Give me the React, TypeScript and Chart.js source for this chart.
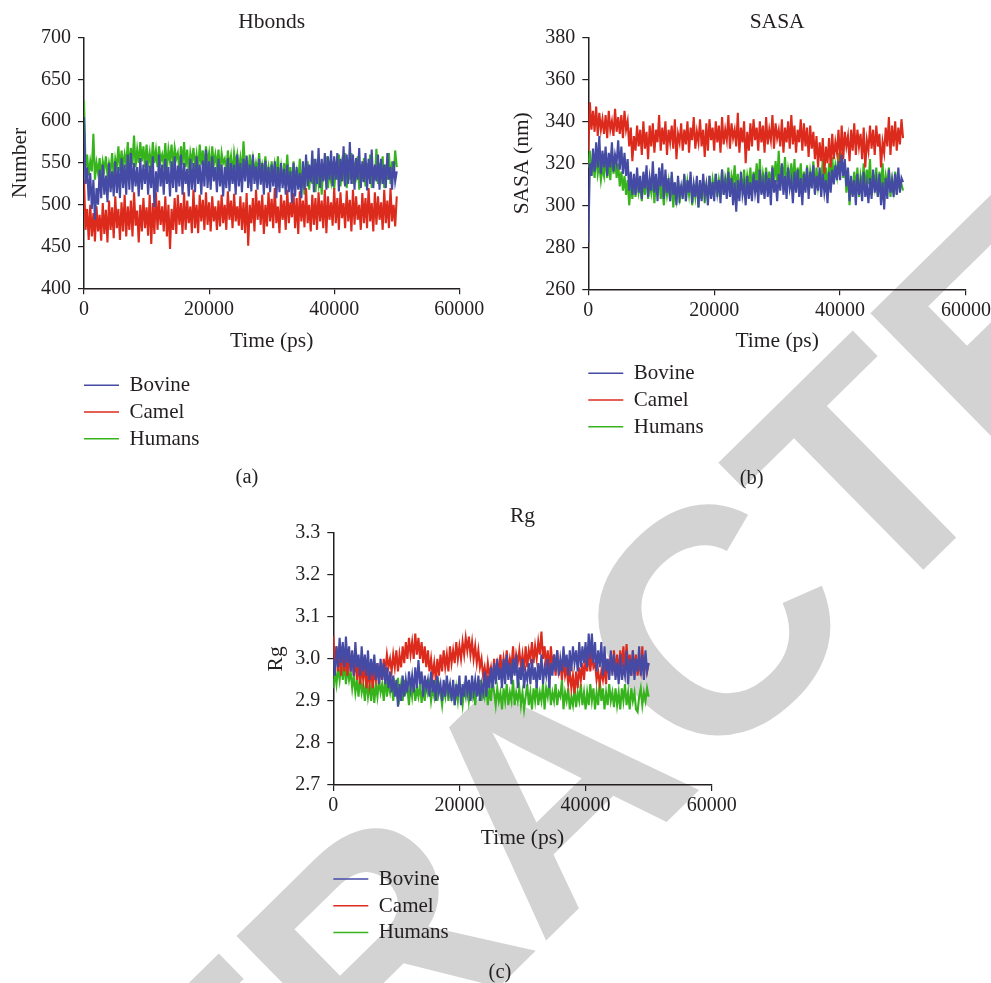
import React, { useEffect, useRef } from "react";
import { Chart, registerables } from "chart.js";

Chart.register(...registerables);

// ---------- data ----------
const TIME_PS = [
  0, 250, 500, 750, 1000, 1250, 1500, 1750, 2000, 2250,
  2500, 2750, 3000, 3250, 3500, 3750, 4000, 4250, 4500, 4750,
  5000, 5250, 5500, 5750, 6000, 6250, 6500, 6750, 7000, 7250,
  7500, 7750, 8000, 8250, 8500, 8750, 9000, 9250, 9500, 9750,
  10000, 10250, 10500, 10750, 11000, 11250, 11500, 11750, 12000, 12250,
  12500, 12750, 13000, 13250, 13500, 13750, 14000, 14250, 14500, 14750,
  15000, 15250, 15500, 15750, 16000, 16250, 16500, 16750, 17000, 17250,
  17500, 17750, 18000, 18250, 18500, 18750, 19000, 19250, 19500, 19750,
  20000, 20250, 20500, 20750, 21000, 21250, 21500, 21750, 22000, 22250,
  22500, 22750, 23000, 23250, 23500, 23750, 24000, 24250, 24500, 24750,
  25000, 25250, 25500, 25750, 26000, 26250, 26500, 26750, 27000, 27250,
  27500, 27750, 28000, 28250, 28500, 28750, 29000, 29250, 29500, 29750,
  30000, 30250, 30500, 30750, 31000, 31250, 31500, 31750, 32000, 32250,
  32500, 32750, 33000, 33250, 33500, 33750, 34000, 34250, 34500, 34750,
  35000, 35250, 35500, 35750, 36000, 36250, 36500, 36750, 37000, 37250,
  37500, 37750, 38000, 38250, 38500, 38750, 39000, 39250, 39500, 39750,
  40000, 40250, 40500, 40750, 41000, 41250, 41500, 41750, 42000, 42250,
  42500, 42750, 43000, 43250, 43500, 43750, 44000, 44250, 44500, 44750,
  45000, 45250, 45500, 45750, 46000, 46250, 46500, 46750, 47000, 47250,
  47500, 47750, 48000, 48250, 48500, 48750, 49000, 49250, 49500, 49750,
  50000,
];

const SERIES_NAMES = ["Bovine", "Camel", "Humans"];
const SERIES_COLORS = ["#454ba4", "#dc2b1c", "#37b41d"];

// Hbonds (Number)
const HB_BOVINE = [
  605, 525, 545, 505, 538, 495, 530, 482, 520, 500,
  542, 508, 548, 512, 535, 503, 550, 515, 540, 510,
  552, 514, 545, 508, 556, 520, 548, 512, 560, 518,
  562, 515, 550, 522, 545, 510, 556, 518, 548, 525,
  553, 512, 547, 520, 558, 497, 540, 515, 560, 522,
  548, 512, 555, 525, 545, 510, 552, 520, 558, 515,
  547, 522, 560, 512, 550, 525, 543, 510, 555, 518,
  550, 515, 558, 525, 548, 512, 553, 522, 566, 520,
  552, 518, 558, 528, 545, 515, 555, 522, 548, 510,
  545, 520, 556, 516, 550, 525, 548, 512, 560, 522,
  550, 515, 555, 528, 559, 520, 548, 516, 560, 525,
  546, 518, 555, 524, 550, 512, 553, 520, 545, 515,
  548, 522, 552, 508, 545, 515, 550, 520, 543, 512,
  548, 515, 540, 502, 550, 510, 545, 518, 538, 508,
  552, 518, 560, 522, 548, 527, 565, 515, 555, 525,
  568, 520, 555, 528, 562, 518, 558, 530, 565, 522,
  558, 530, 562, 516, 555, 528, 570, 522, 560, 525,
  575, 525, 560, 518, 556, 530, 568, 520, 552, 527,
  562, 517, 555, 525, 566, 520, 548, 528, 560, 518,
  555, 525, 548, 520, 562, 530, 545, 518, 552, 528,
  540,
];
const HB_CAMEL = [
  530, 470, 495, 458, 500, 462, 490, 456, 498, 468,
  488, 457, 502, 465, 494, 455, 505, 470, 497, 460,
  510, 472, 495, 458, 503, 468, 512, 462, 498, 470,
  505, 462, 515, 475, 493, 455, 500, 468, 508, 472,
  497, 463, 512, 453, 502, 465, 515, 470, 505, 476,
  498, 468, 510, 462, 500, 447, 495, 470, 508, 465,
  512, 476, 502, 465, 515, 470, 505, 478, 498, 466,
  518, 472, 500, 466, 512, 480, 506, 470, 515, 476,
  503, 468, 510, 480, 498, 470, 505, 474, 512, 478,
  500, 470, 516, 482, 505, 472, 513, 480, 498, 475,
  510, 470, 503, 466, 514, 451, 500, 478, 508, 468,
  518, 482, 505, 476, 512, 465, 500, 474, 515, 480,
  507, 472, 520, 478, 498, 466, 512, 482, 505, 470,
  518, 478, 503, 485, 514, 472, 508, 465, 516, 480,
  505, 473, 520, 478, 500, 468, 512, 476, 508, 470,
  515, 480, 505, 472, 518, 466, 510, 482, 503, 475,
  520, 478, 508, 470, 515, 484, 502, 472, 517, 480,
  506, 468, 518, 476, 510, 482, 500, 470, 514, 478,
  508, 472, 520, 480, 502, 468, 515, 476, 510, 482,
  503, 470, 518, 478, 505, 472, 520, 480, 500, 474,
  510,
];
const HB_HUMANS = [
  625, 545, 560, 535, 552, 540, 585, 530, 550, 538,
  556, 532, 552, 542, 558, 535, 550, 540, 562, 532,
  555, 545, 570, 540, 565, 545, 560, 548, 575, 542,
  568, 548, 583, 545, 566, 550, 575, 552, 570, 545,
  572, 548, 562, 543, 575, 550, 565, 545, 570, 552,
  560, 548, 574, 542, 566, 552, 572, 545, 568, 555,
  562, 540, 570, 548, 575, 545, 566, 538, 562, 550,
  568, 545, 560, 540, 572, 548, 565, 542, 570, 550,
  562, 540, 570, 548, 560, 545, 566, 538, 562, 550,
  555, 540, 565, 545, 558, 535, 562, 548, 560, 542,
  556, 538, 576, 545, 552, 535, 560, 540, 555, 538,
  550, 540, 562, 535, 548, 538, 558, 532, 545, 530,
  552, 528, 548, 535, 558, 530, 545, 525, 550, 532,
  560, 528, 545, 520, 552, 530, 540, 525, 555, 522,
  540, 512, 535, 552, 518, 545, 525, 555, 515, 540,
  525, 548, 512, 545, 530, 558, 520, 540, 528, 552,
  518, 545, 530, 560, 522, 548, 535, 562, 520, 550,
  530, 562, 525, 545, 535, 558, 518, 548, 528, 556,
  522, 550, 532, 560, 520, 545, 530, 567, 525, 550,
  535, 558, 520, 548, 530, 562, 525, 552, 535, 565,
  545,
];

// SASA (nm)
const SASA_BOVINE = [
  282, 320, 314, 327, 316, 330, 318, 333, 315, 326,
  318, 328, 314, 325, 318, 330, 316, 324, 320, 331,
  317, 328, 315, 325, 314, 322, 307, 316, 305, 315,
  305, 318, 306, 314, 303, 316, 308, 319, 304, 313,
  307, 321, 306, 315, 302, 318, 309, 320, 303, 317,
  306, 313, 302, 316, 305, 311, 300, 314, 304, 309,
  303, 315, 302, 312, 306, 316, 301, 310, 304, 314,
  299, 312, 302, 315, 305, 310, 300, 314, 303, 311,
  302, 315, 306, 312, 301, 317, 305, 311, 303, 316,
  304, 313, 300, 311, 297, 312, 302, 316, 305, 310,
  300, 314, 303, 311, 302, 315, 306, 312, 301, 317,
  305, 311, 303, 316, 304, 313, 300, 318, 306, 312,
  302, 315, 307, 320, 305, 314, 303, 318, 308, 312,
  301, 316, 306, 317, 304, 313, 300, 315, 306, 318,
  303, 316, 308, 319, 305, 314, 307, 318, 304, 315,
  306, 312, 301, 316, 306, 317, 310, 319, 312, 321,
  312, 324, 314, 322, 309, 318, 302, 314, 304, 312,
  300, 315, 305, 311, 302, 316, 304, 310, 301, 313,
  303, 317, 306, 312, 304, 315, 300, 311, 298, 313,
  303, 317, 306, 312, 304, 315, 305, 318, 306, 313,
  311,
];
const SASA_CAMEL = [
  326, 349, 336, 345, 335, 347, 333, 344, 336, 341,
  334, 343, 332, 345, 336, 340, 333, 346, 335, 342,
  334, 343, 332, 345, 336, 340, 328, 337, 321, 333,
  326, 338, 328, 336, 324, 340, 327, 335, 322, 338,
  328, 339, 325, 336, 330, 343, 326, 337, 329, 340,
  324, 336, 330, 338, 327, 341, 322, 334, 330, 339,
  326, 336, 329, 340, 325, 337, 331, 342, 327, 335,
  330, 341, 328, 336, 323, 339, 326, 341, 331, 337,
  326, 340, 330, 338, 325, 342, 329, 336, 331, 343,
  327, 339, 332, 336, 328, 344, 325, 337, 330, 340,
  320, 335, 326, 339, 328, 341, 331, 337, 326, 340,
  330, 338, 325, 342, 329, 336, 331, 343, 327, 339,
  332, 336, 328, 341, 325, 337, 330, 340, 327, 343,
  329, 338, 325, 336, 330, 341, 326, 339, 328, 337,
  323, 338, 327, 335, 322, 333, 318, 330, 321, 332,
  315, 328, 320, 332, 318, 334, 322, 330, 325, 336,
  320, 338, 322, 335, 328, 333, 321, 336, 326, 339,
  324, 336, 328, 334, 322, 337, 318, 331, 326, 338,
  327, 336, 324, 338, 328, 334, 318, 330, 325, 337,
  328, 342, 324, 338, 328, 340, 326, 337, 329, 341,
  332,
];
const SASA_HUMANS = [
  318, 326, 314, 322, 313, 325, 315, 320, 312, 318,
  314, 324, 313, 321, 312, 326, 315, 322, 313, 320,
  309, 316, 307, 314, 305, 312, 300, 310, 303, 311,
  304, 314, 306, 310, 302, 313, 305, 316, 303, 311,
  306, 313, 301, 312, 305, 315, 303, 309, 300, 312,
  305, 311, 302, 314, 299, 309, 303, 312, 301, 308,
  306, 314, 302, 311, 305, 313, 300, 310, 304, 312,
  299, 311, 303, 312, 301, 309, 306, 314, 304, 312,
  306, 315, 304, 312, 307, 317, 305, 313, 309, 318,
  306, 314, 310, 319, 307, 315, 304, 313, 308, 317,
  306, 314, 309, 318, 305, 316, 310, 320, 308, 322,
  306, 315, 310, 318, 307, 316, 309, 319, 311, 321,
  311, 326, 309, 319, 313, 323, 308, 317, 312, 320,
  310, 322, 307, 318, 312, 320, 306, 316, 309, 319,
  307, 316, 310, 321, 306, 318, 309, 315, 311, 322,
  309, 318, 306, 320, 310, 323, 312, 319, 314, 325,
  316, 325, 313, 320, 306, 316, 300, 312, 305, 316,
  307, 318, 304, 314, 309, 320, 306, 317, 310, 322,
  305, 315, 309, 318, 304, 316, 308, 320, 306, 314,
  309, 318, 304, 312, 307, 316, 305, 313, 308, 310,
  307,
];

// Rg
const RG_BOVINE = [
  3.0, 2.96, 3.03, 2.98, 3.05, 2.99, 3.04, 2.98, 3.053, 2.99,
  3.03, 2.97, 3.02, 2.96, 3.04, 2.98, 3.01, 2.96, 3.03, 2.97,
  3.01, 2.96, 3.02, 2.95, 3.0, 2.96, 3.01, 2.95, 2.99, 2.94,
  3.0, 2.95, 2.99, 2.94, 2.98, 2.93, 2.97, 2.92, 2.96, 2.91,
  2.95, 2.886, 2.94, 2.9, 2.96, 2.91, 2.95, 2.92, 2.97, 2.93,
  2.96, 2.92, 2.98, 2.93, 2.997, 2.94, 2.97, 2.91, 2.96, 2.93,
  2.95, 2.91, 2.97, 2.92, 2.95, 2.9, 2.96, 2.92, 2.94, 2.9,
  2.95, 2.91, 2.96, 2.92, 2.94, 2.9, 2.95, 2.89, 2.94, 2.91,
  2.96, 2.89, 2.94, 2.91, 2.96, 2.92, 2.95, 2.9, 2.96, 2.92,
  2.95, 2.91, 2.96, 2.9, 2.94, 2.92, 2.97, 2.91, 2.96, 2.93,
  2.98, 2.93, 2.99, 2.94, 3.0, 2.95, 2.98, 2.93, 3.0, 2.94,
  3.01, 2.95, 2.99, 2.94, 3.0, 2.96, 3.01, 2.93, 2.98, 2.95,
  3.0, 2.93, 2.97, 2.95, 2.99, 2.94, 3.0, 2.95, 2.98, 2.93,
  2.99, 2.95, 3.01, 2.94, 2.98, 2.96, 3.0, 2.93, 2.99, 2.96,
  3.01, 2.97, 3.02, 2.96, 3.0, 2.97, 3.03, 2.98, 3.01, 2.96,
  3.02, 2.97, 3.03, 2.99, 3.02, 2.97, 3.04, 2.98, 3.03, 2.99,
  3.04, 2.98, 3.06, 3.0, 3.06, 2.99, 3.04, 2.97, 3.02, 2.98,
  3.04, 2.96, 3.03, 2.97, 3.0, 2.95, 3.02, 2.96, 3.01, 2.95,
  2.99, 2.94, 3.01, 2.95, 2.98, 2.96, 3.02, 2.94, 3.0, 2.96,
  3.02, 2.95, 3.0, 2.97, 3.03, 2.96, 3.01, 2.95, 3.02, 2.97,
  2.99,
];
const RG_CAMEL = [
  3.055, 2.98, 3.03, 2.97, 3.02, 2.96, 3.03, 2.97, 3.01, 2.96,
  3.02, 2.97, 3.01, 2.96, 3.0, 2.95, 2.99, 2.94, 2.98, 2.95,
  2.99, 2.93, 2.97, 2.94, 2.98, 2.93, 2.97, 2.95, 2.99, 2.94,
  2.98, 2.95, 3.0, 2.97, 3.01, 2.98, 3.0, 2.97, 3.01, 2.98,
  3.02, 2.97, 3.01, 2.98, 3.03, 2.99, 3.04, 3.0, 3.05, 3.01,
  3.04, 3.0, 3.06, 3.01, 3.05, 3.0, 3.04, 2.99, 3.03, 2.98,
  3.02, 2.97, 3.0, 2.96, 2.99, 2.95, 3.0, 2.96, 3.01, 2.97,
  3.02, 2.98, 3.01, 2.97, 3.03, 2.99, 3.02, 2.99, 3.04, 3.0,
  3.03, 3.0, 3.04, 3.01, 3.05, 3.02, 3.053, 3.01, 3.04, 3.0,
  3.03, 2.99, 3.02, 2.98, 3.0, 2.96, 2.98, 2.95, 2.99, 2.96,
  2.98, 2.95, 3.0, 2.96, 2.99, 2.97, 3.01, 2.96, 3.0, 2.97,
  3.02, 2.97, 3.0, 2.98, 3.03, 2.97, 3.01, 2.99, 3.02, 2.98,
  3.01, 2.97, 3.03, 2.98, 3.02, 3.0, 3.04, 2.99, 3.03, 3.0,
  3.04, 3.01, 3.065, 3.0, 3.03, 2.98, 3.02, 2.97, 3.03, 2.98,
  3.01, 2.96, 3.02, 2.97, 2.99, 2.95, 3.0, 2.96, 2.98, 2.94,
  2.97, 2.93, 2.96, 2.918, 2.97, 2.93, 2.98, 2.95, 2.99, 2.95,
  3.0, 2.97, 3.02, 2.97, 3.01, 2.98, 2.99, 2.95, 2.97, 2.94,
  2.97, 2.95, 2.98, 2.94, 3.0, 2.96, 3.01, 2.97, 3.02, 2.96,
  3.01, 2.96, 3.02, 2.98, 3.03, 2.97, 3.035, 2.98, 3.01, 2.96,
  3.02, 2.97, 3.01, 2.96, 2.99, 2.97, 3.03, 2.96, 3.0, 2.97,
  2.99,
];
const RG_HUMANS = [
  2.93, 2.97, 2.94, 2.98, 2.95, 2.99, 2.95, 2.993, 2.94, 2.98,
  2.95, 2.97, 2.93, 2.96, 2.92, 2.95, 2.91, 2.96, 2.92, 2.94,
  2.9, 2.95, 2.91, 2.94, 2.9, 2.95, 2.895, 2.94, 2.91, 2.95,
  2.92, 2.94, 2.9, 2.96, 2.91, 2.94, 2.92, 2.95, 2.9, 2.94,
  2.92, 2.955, 2.91, 2.94, 2.9, 2.95, 2.92, 2.93, 2.89, 2.94,
  2.91, 2.95, 2.9, 2.93, 2.91, 2.94, 2.895, 2.93, 2.9, 2.95,
  2.92, 2.94, 2.9, 2.93, 2.91, 2.95, 2.9, 2.94, 2.92, 2.89,
  2.93, 2.91, 2.95, 2.9, 2.93, 2.91, 2.94, 2.89, 2.93, 2.9,
  2.94, 2.92, 2.89, 2.93, 2.91, 2.945, 2.9, 2.93, 2.91, 2.94,
  2.89, 2.93, 2.92, 2.95, 2.9, 2.93, 2.91, 2.94, 2.89, 2.93,
  2.9, 2.95, 2.92, 2.89, 2.93, 2.9, 2.92, 2.88, 2.93, 2.9,
  2.94, 2.89, 2.92, 2.9, 2.95, 2.89, 2.92, 2.9, 2.93, 2.89,
  2.92, 2.88, 2.91, 2.94, 2.89, 2.92, 2.88, 2.93, 2.9, 2.94,
  2.89, 2.92, 2.9, 2.94, 2.88, 2.93, 2.91, 2.945, 2.89, 2.92,
  2.9, 2.94, 2.89, 2.92, 2.91, 2.95, 2.88, 2.92, 2.9, 2.93,
  2.88, 2.91, 2.89, 2.93, 2.885, 2.92, 2.9, 2.94, 2.89, 2.92,
  2.88, 2.92, 2.89, 2.94, 2.9, 2.93, 2.88, 2.92, 2.89, 2.95,
  2.9, 2.93, 2.88, 2.92, 2.89, 2.94, 2.9, 2.92, 2.885, 2.93,
  2.89, 2.92, 2.88, 2.93, 2.9, 2.94, 2.89, 2.92, 2.88, 2.93,
  2.9, 2.92, 2.88, 2.874, 2.91, 2.93, 2.89, 2.92, 2.9, 2.93,
  2.91,
];

// ---------- styling / layout ----------
const FONT = '"Liberation Serif", "Times New Roman", Times, serif';
const INK = "#231f20";
const TICK_SIZE = 20;
const TITLE_SIZE = 21.5;
const LEGEND_SIZE = 21;
const LEGEND_ROW = 26.7;

type Box = { left: number; top: number; width: number; height: number };
type Area = { left: number; top: number; right: number; bottom: number };
type PanelSpec = {
  id: string;
  title: string;
  yTitle: string;
  caption: string;
  series: number[][];
  yMin: number;
  yMax: number;
  yStep: number;
  yDecimals: number;
  box: Box;
  area: Area;
  yTitleX: number;
  xTitleY: number;
  titleY: number;
  legendY: number;
  captionX: number;
  captionY: number;
};

const PANELS: PanelSpec[] = [
  {
    id: "a", title: "Hbonds", yTitle: "Number", caption: "(a)",
    series: [HB_BOVINE, HB_CAMEL, HB_HUMANS],
    yMin: 400, yMax: 700, yStep: 50, yDecimals: 0,
    box: { left: 0, top: 0, width: 495, height: 495 },
    area: { left: 84, top: 37.7, right: 459.3, bottom: 288.3 },
    yTitleX: 20, xTitleY: 341, titleY: 22.5, legendY: 385.3, captionX: 247, captionY: 478,
  },
  {
    id: "b", title: "SASA", yTitle: "SASA (nm)", caption: "(b)",
    series: [SASA_BOVINE, SASA_CAMEL, SASA_HUMANS],
    yMin: 260, yMax: 380, yStep: 20, yDecimals: 0,
    box: { left: 495, top: 0, width: 520, height: 495 },
    area: { left: 588.3, top: 37.3, right: 966, bottom: 289.3 },
    yTitleX: 522.5, xTitleY: 341, titleY: 22.5, legendY: 373.3, captionX: 751.7, captionY: 478.3,
  },
  {
    id: "c", title: "Rg", yTitle: "Rg", caption: "(c)",
    series: [RG_BOVINE, RG_CAMEL, RG_HUMANS],
    yMin: 2.7, yMax: 3.3, yStep: 0.1, yDecimals: 1,
    box: { left: 250, top: 495, width: 500, height: 488 },
    area: { left: 333.3, top: 532.7, right: 711.7, bottom: 785 },
    yTitleX: 276, xTitleY: 838, titleY: 516, legendY: 879, captionX: 500, captionY: 973,
  },
];

const decorPlugin = {
  id: "decor",
  afterDraw(chart: any, _args: any, opts: any) {
    const ctx = chart.ctx as CanvasRenderingContext2D;
    const area = chart.chartArea;
    ctx.save();
    ctx.fillStyle = INK;
    ctx.textBaseline = "middle";
    ctx.textAlign = "center";
    ctx.font = `${TITLE_SIZE}px ${FONT}`;
    ctx.fillText(opts.title, (area.left + area.right) / 2, opts.titleY);

    ctx.font = `${LEGEND_SIZE}px ${FONT}`;
    chart.data.datasets.forEach((ds: any, i: number) => {
      const y = opts.legendY + i * LEGEND_ROW;
      ctx.strokeStyle = ds.borderColor;
      ctx.lineWidth = 1.5;
      ctx.beginPath();
      ctx.moveTo(area.left, y);
      ctx.lineTo(area.left + 35, y);
      ctx.stroke();
      ctx.textAlign = "left";
      ctx.fillStyle = INK;
      ctx.fillText(ds.label, area.left + 45.5, y + 0.5);
    });

    ctx.textAlign = "center";
    ctx.font = `20.5px ${FONT}`;
    ctx.fillText(opts.caption, opts.captionX, opts.captionY);
    ctx.restore();
  },
};

function Panel({ spec }: { spec: PanelSpec }) {
  const ref = useRef<HTMLCanvasElement | null>(null);

  useEffect(() => {
    const canvas = ref.current;
    if (!canvas) return;
    const { box, area } = spec;
    const titleLH = TITLE_SIZE * 1.2;
    const yAxisWidth = area.left - box.left;
    const xAxisHeight = spec.xTitleY - area.bottom + titleLH / 2;
    const padTop = area.top - box.top;
    const padRight = box.left + box.width - area.right;
    const padBottom = box.top + box.height - area.bottom - xAxisHeight;

    const datasets = spec.series.map((values, i) => ({
      label: SERIES_NAMES[i],
      data: values.map((v, k) => ({ x: TIME_PS[k], y: v })),
      borderColor: SERIES_COLORS[i],
      backgroundColor: SERIES_COLORS[i],
      borderWidth: 2.1,
      borderJoinStyle: "miter",
      pointRadius: 0,
      tension: 0,
      fill: false,
    }));

    const chart = new Chart(canvas, {
      type: "line",
      data: { datasets },
      plugins: [decorPlugin],
      options: {
        responsive: false,
        animation: false,
        devicePixelRatio: 1,
        events: [],
        layout: { padding: { left: 0, top: padTop, right: padRight, bottom: padBottom } },
        plugins: {
          legend: { display: false },
          tooltip: { enabled: false },
          title: { display: false },
          decor: {
            title: spec.title,
            titleY: spec.titleY - box.top,
            legendY: spec.legendY - box.top,
            caption: spec.caption,
            captionX: spec.captionX - box.left,
            captionY: spec.captionY - box.top,
          },
        } as any,
        scales: {
          x: {
            type: "linear",
            min: 0,
            max: 60000,
            afterFit: (scale: any) => {
              scale.height = xAxisHeight;
            },
            ticks: {
              stepSize: 20000,
              padding: 3,
              color: INK,
              maxRotation: 0,
              font: { family: FONT, size: TICK_SIZE },
              callback: (v: any) => String(v),
            },
            grid: { display: true, drawOnChartArea: false, drawTicks: true, tickLength: 6, color: INK, lineWidth: 1.2 },
            border: { display: true, color: INK, width: 1.5 },
            title: {
              display: true,
              text: "Time (ps)",
              color: INK,
              padding: { top: 0, bottom: 0 },
              font: { family: FONT, size: TITLE_SIZE },
            },
          },
          y: {
            type: "linear",
            min: spec.yMin,
            max: spec.yMax,
            afterFit: (scale: any) => {
              scale.width = yAxisWidth;
            },
            ticks: {
              stepSize: spec.yStep,
              padding: 7,
              color: INK,
              font: { family: FONT, size: TICK_SIZE },
              callback: (v: any) => Number(v).toFixed(spec.yDecimals),
            },
            grid: { display: true, drawOnChartArea: false, drawTicks: true, tickLength: 6, color: INK, lineWidth: 1.2 },
            border: { display: true, color: INK, width: 1.5 },
            title: {
              display: true,
              text: spec.yTitle,
              color: INK,
              padding: { top: spec.yTitleX - box.left - titleLH / 2, bottom: 0 },
              font: { family: FONT, size: TITLE_SIZE },
            },
          },
        },
      } as any,
    });
    return () => chart.destroy();
  }, [spec]);

  return (
    <canvas
      ref={ref}
      width={spec.box.width}
      height={spec.box.height}
      style={{
        position: "absolute",
        left: spec.box.left,
        top: spec.box.top,
        width: spec.box.width,
        height: spec.box.height,
        zIndex: 1,
      }}
    />
  );
}

export default function App() {
  return (
    <div
      style={{
        position: "absolute",
        left: 0,
        top: 0,
        width: 991,
        height: 983,
        overflow: "hidden",
        background: "#ffffff",
      }}
    >
      <div
        style={{
          position: "absolute",
          left: 545,
          top: 786,
          transform: "translate(-50%, -50%) rotate(-44.5deg)",
          font: 'bold 320px "Liberation Sans", Arial, Helvetica, sans-serif',
          lineHeight: 1,
          color: "#d3d3d3",
          whiteSpace: "nowrap",
          zIndex: 0,
          userSelect: "none",
        }}
      >
        RETRACTED
      </div>
      {PANELS.map((p) => (
        <Panel key={p.id} spec={p} />
      ))}
    </div>
  );
}
